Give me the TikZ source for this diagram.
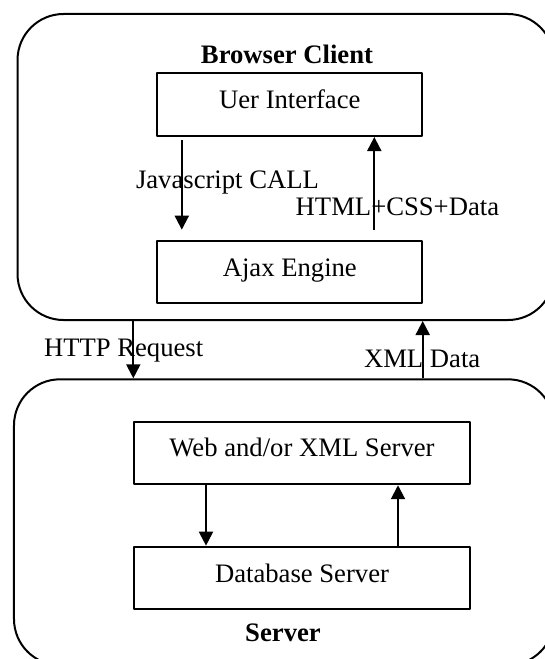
\documentclass[tikz,border=0pt,12pt]{standalone}
\usepackage{fontspec}
\setmainfont{Liberation Serif}
\usetikzlibrary{arrows.meta}

\begin{document}
\begin{tikzpicture}[x=0.45pt, y=-0.45pt, >={Triangle[length=6.3pt, width=6.3pt]},
    line join=round, line width=0.9pt,
    box/.style={draw, minimum height=28.2pt, inner sep=0pt, text height=8pt, text depth=4.4pt},
    frame/.style={draw, rounded corners=20.7pt, inner sep=0pt}]
    \useasboundingbox (0,0) rectangle (545,659);
    \clip (0,0) rectangle (545,659);
    % the two rounded containers
    \node[frame, minimum width=241.4pt, minimum height=137.7pt] (client) at (285.75,167) {};
    \node[frame, minimum width=243pt, minimum height=128.6pt] (server) at (284,522.2) {};
    \foreach \x/\y/\w/\id/\text in {
        289.8/104.7/119.3pt/ui/Uer Interface,
        289.8/272/119.3pt/ajax/Ajax Engine,
        302/452.9/151.4pt/web/{Web and/or XML Server},
        302/578/151.4pt/db/Database Server%
    } {
        \node[box, minimum width=\w] (\id) at (\x,\y) {\text};
    }
    \node[anchor=base, font=\bfseries] (clienttitle) at (287,63.3) {Browser Client};
    \node[anchor=base, font=\bfseries] (servertitle) at (283,641.7) {Server};
    \foreach \x/\y/\id/\text in {
        135/188.3/jscall/Javascript CALL,
        294.7/215/htmldata/HTML+CSS+Data,
        43/356/httpreq/HTTP Request,
        363/367.3/xmldata/XML Data%
    } {
        \node[anchor=base west, inner sep=0pt] (\id) at (\x,\y) {\text};
    }
    % x positions of the arrows
    \foreach \x/\id in {181.8/js, 374.3/css, 133.3/http, 422.7/xml, 206/query, 398/reply} {
        \coordinate (\id) at (\x,0);
    }
    \draw[->, shorten <=1.35pt, shorten >=4.5pt] (ui.south -| js) -- (ajax.north -| js);
    \draw[->, shorten <=4.5pt] (ajax.north -| css) -- (ui.south -| css);
    \draw[->] (client.south -| http) -- (server.north -| http);
    \draw[->] (server.north -| xml) -- (client.south -| xml);
    \draw[->] (web.south -| query) -- (db.north -| query);
    \draw[->] (db.north -| reply) -- (web.south -| reply);
\end{tikzpicture}
\end{document}
